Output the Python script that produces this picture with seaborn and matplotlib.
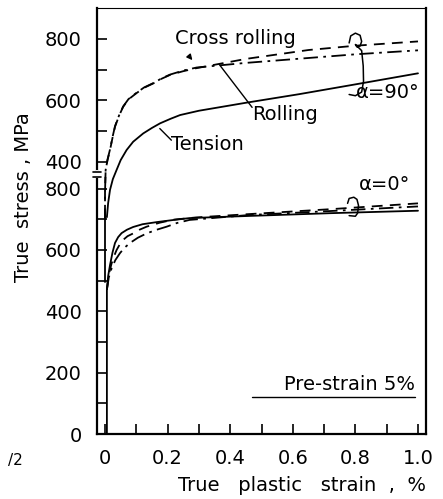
import numpy as np
import pandas as pd
import seaborn as sns
import matplotlib.pyplot as plt
import matplotlib.transforms as mtransforms

# ---------------- data ----------------
# upper group (alpha = 90 deg), true stress in MPa (plotted with an offset)
UPPER_OFFSET = 488
cross_x = [0.0, 0.0, 0.002, 0.008, 0.016, 0.024, 0.032, 0.045, 0.058, 0.075, 0.10, 0.125,
           0.154, 0.18, 0.208, 0.25, 0.293, 0.45, 0.65, 0.8, 1.0]
cross_y = [212, 300, 373, 405, 438, 478, 514, 550, 579, 603, 623, 641,
           655, 670, 683, 695, 705, 735, 764, 778, 792]
roll_x = [0.0, 0.0, 0.002, 0.008, 0.016, 0.024, 0.032, 0.045, 0.058, 0.075, 0.10, 0.125,
          0.154, 0.18, 0.208, 0.25, 0.293, 0.45, 0.65, 0.8, 1.0]
roll_y = [212, 300, 373, 407, 440, 480, 516, 551, 580, 604, 624, 642,
          656, 671, 684, 697, 707, 722, 738, 750, 763]
tens90_x = [0.006, 0.01, 0.016, 0.025, 0.037, 0.05, 0.069, 0.09, 0.122, 0.15, 0.176, 0.21,
            0.24, 0.30, 0.45, 0.62, 0.8, 1.0]
tens90_y = [219, 265, 308, 343, 373, 405, 438, 465, 492, 510, 525, 540,
            552, 566, 592, 620, 652, 688]

# lower group (alpha = 0 deg)
tens0_x = [0.006, 0.006, 0.01, 0.016, 0.024, 0.032, 0.042, 0.053, 0.07, 0.09, 0.12, 0.166,
           0.22, 0.27, 0.46, 0.72, 1.0]
tens0_y = [0, 470, 515, 551, 592, 623, 642, 655, 666, 675, 684, 691,
           698, 704, 711, 720, 728]
cross0_x = [0.006, 0.012, 0.021, 0.029, 0.037, 0.047, 0.058, 0.072, 0.09, 0.11, 0.133, 0.175,
            0.22, 0.29, 0.46, 0.72, 1.0]
cross0_y = [470, 520, 556, 580, 600, 618, 633, 645, 654, 666, 676, 689,
            699, 706, 717, 733, 752]
roll0_x = [0.006, 0.012, 0.021, 0.033, 0.048, 0.063, 0.08, 0.105, 0.133, 0.165, 0.197, 0.23,
           0.27, 0.46, 0.72, 1.0]
roll0_y = [470, 510, 540, 567, 590, 608, 623, 640, 654, 666, 676, 688,
           698, 714, 727, 742]

# elastic segment drawn at zero strain between the two groups
elastic_x = [0.0, 0.0]
elastic_y = [496, 700]

# tick labels
xticks = [0, 0.2, 0.4, 0.6, 0.8, 1.0]
xticklabels = ["0", "0.2", "0.4", "0.6", "0.8", "1.0"]
lower_ticks = [0, 200, 400, 600, 800]
upper_ticks = [400, 600, 800]

# ---------------- figure ----------------
sns.set_style("ticks")
plt.rcParams["font.family"] = ["DejaVu Sans"]
plt.rcParams["text.color"] = "black"
plt.rcParams["axes.labelcolor"] = "black"
plt.rcParams["xtick.color"] = "black"
plt.rcParams["ytick.color"] = "black"

fig = plt.figure(figsize=(4.43, 4.99), dpi=100)
ax = fig.add_axes([97 / 443, 1 - 434 / 499, (426 - 97) / 443, (434 - 8) / 499])

def df(x, y, off=0):
    return pd.DataFrame({"x": x, "y": np.array(y) + off})

lw = 1.3
k = dict(color="black", linewidth=lw, ax=ax, legend=False, sort=False, estimator=None)
dash = (0, (6, 4))
dashdot = (0, (8, 3, 1.5, 3))
sns.lineplot(data=df(cross_x, cross_y, UPPER_OFFSET), x="x", y="y", linestyle=dash, **k)
sns.lineplot(data=df(roll_x, roll_y, UPPER_OFFSET), x="x", y="y", linestyle=dashdot, **k)
sns.lineplot(data=df(tens90_x, tens90_y, UPPER_OFFSET), x="x", y="y", linestyle="-", **k)
sns.lineplot(data=df(tens0_x, tens0_y), x="x", y="y", linestyle="-", **k)
sns.lineplot(data=df(cross0_x, cross0_y), x="x", y="y", linestyle=dash, **k)
sns.lineplot(data=df(roll0_x, roll0_y), x="x", y="y", linestyle=dashdot, **k)
ax.plot(elastic_x, elastic_y, color="black", linewidth=lw)

ax.set_xlim(-0.0256, 1.0256)
ax.set_ylim(0, 1389)

# x ticks
ax.set_xticks(np.arange(0, 1.01, 0.1), minor=True)
ax.set_xticks(xticks)
ax.set_xticklabels(xticklabels)

# y ticks: lower scale + offset upper scale
ymajor = lower_ticks + [t + UPPER_OFFSET for t in upper_ticks]
ylabels = [str(t) for t in lower_ticks] + [str(t) for t in upper_ticks]
ax.set_yticks(ymajor)
ax.set_yticklabels(ylabels)
yminor = [100, 300, 500, 700] + [500 + UPPER_OFFSET, 700 + UPPER_OFFSET]
ax.set_yticks(yminor, minor=True)

for side in ["top", "right", "left", "bottom"]:
    ax.spines[side].set_linewidth(1.6)
    ax.spines[side].set_color("black")
ax.spines["top"].set_linewidth(0.8)

fs = 14
ax.tick_params(axis="both", which="both", direction="in", color="black", width=1.2)
ax.tick_params(axis="both", which="major", length=7, labelsize=fs)
ax.tick_params(axis="both", which="minor", length=7)
ax.tick_params(axis="y", which="major", pad=11)
ax.tick_params(axis="x", which="major", pad=11)

ax.set_xlabel("True   plastic   strain  ,  %", fontsize=fs, ha="right")
ax.set_ylabel("True  stress , MPa", fontsize=fs)
ax.yaxis.set_label_coords(-0.195, 0.555)
ax.xaxis.set_label_coords(1.0, -0.098)

# axis break mark
trans = mtransforms.blended_transform_factory(ax.transAxes, ax.transData)
ax.plot([0, 0], [840, 853], color="white", linewidth=3, transform=trans, clip_on=False, zorder=5)
for yb in [839, 854]:
    ax.plot([-0.012, 0.012], [yb, yb], color="black", linewidth=1.2, transform=trans,
            clip_on=False, zorder=6)

# annotations
ax.text(0.415, 1289, "Cross rolling", fontsize=fs, ha="center", va="center")
ax.annotate("", xy=(0.285, 1212), xytext=(0.262, 1240),
            arrowprops=dict(arrowstyle="-|>", color="black", lw=1.0, mutation_scale=8))
ax.text(0.47, 1043, "Rolling", fontsize=fs, ha="left", va="center")
ax.plot([0.47, 0.365], [1065, 1205], color="black", linewidth=1.0)
ax.text(0.212, 945, "Tension", fontsize=fs, ha="left", va="center")
ax.plot([0.212, 0.175], [958, 996], color="black", linewidth=1.0)
ax.text(0.80, 1113, "α=90°", fontsize=fs, ha="left", va="center")
ax.text(0.81, 812, "α=0°", fontsize=fs, ha="left", va="center")
ax.text(0.99, 160, "Pre-strain 5%", fontsize=fs, ha="right", va="center")
ax.plot([0.47, 0.99], [120, 120], color="black", linewidth=1.0)

# brackets (loops) grouping the curves
loop90_x = [0.78, 0.785, 0.80, 0.815, 0.82, 0.815, 0.805, 0.80, 0.82, 0.825, 0.826, 0.82, 0.80, 0.78]
loop90_y = [1275, 1298, 1307, 1300, 1280, 1265, 1262, 1270, 1250, 1200, 1150, 1115, 1103, 1107]
ax.plot(loop90_x, loop90_y, color="black", linewidth=1.1)
loop0_x = [0.775, 0.78, 0.795, 0.805, 0.81, 0.807, 0.80, 0.78]
loop0_y = [752, 768, 772, 765, 745, 720, 710, 712]
ax.plot(loop0_x, loop0_y, color="black", linewidth=1.1)

fig.text(8 / 443, 1 - 460 / 499, "/2", fontsize=11, ha="left", va="center")

fig.savefig("out.png", dpi=100)
